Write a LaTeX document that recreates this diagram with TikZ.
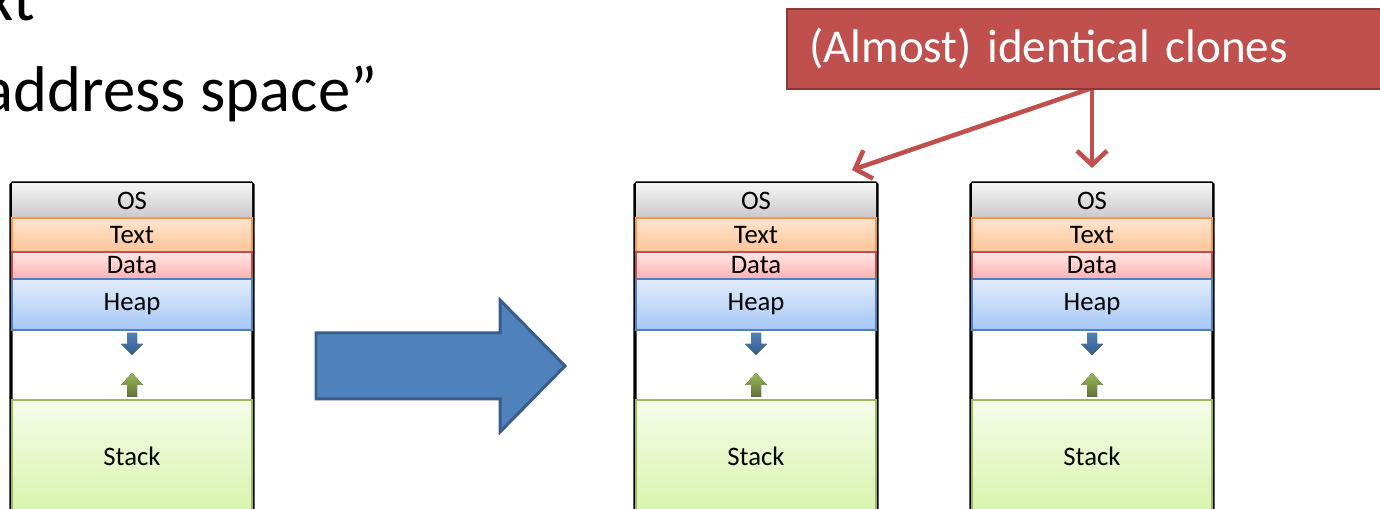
\documentclass[tikz,border=0pt]{standalone}
\usepackage{fontspec}
\setmainfont{Carlito}
\usetikzlibrary{arrows.meta}

\definecolor{osTop}{HTML}{F4F4F4}
\definecolor{osBot}{HTML}{C9C9C9}
\definecolor{txtLine}{HTML}{F79646}
\definecolor{txtTop}{HTML}{FFE4D0}
\definecolor{txtBot}{HTML}{FBC596}
\definecolor{datLine}{HTML}{C0504D}
\definecolor{datTop}{HTML}{FFE6E6}
\definecolor{datBot}{HTML}{FFB0B0}
\definecolor{heapLine}{HTML}{4F81BD}
\definecolor{heapTop}{HTML}{E2ECFC}
\definecolor{heapBot}{HTML}{A6C6F4}
\definecolor{stkLine}{HTML}{9BBB59}
\definecolor{stkTop}{HTML}{F6FCEA}
\definecolor{stkBot}{HTML}{D8F4AC}
\definecolor{cloneRed}{HTML}{C0504D}
\definecolor{cloneEdge}{HTML}{8C3836}
\definecolor{bigBlue}{HTML}{4F81BD}
\definecolor{bigEdge}{HTML}{385D8A}

\begin{document}
\begin{tikzpicture}[
    seg/.style={minimum width=2.4cm, inner sep=0pt, outer sep=0pt, anchor=north,
        font=\fontsize{7.6}{8}\selectfont, line width=0.45pt},
    ossec/.style={seg, minimum height=0.34cm, top color=osTop, bottom color=osBot},
    txtsec/.style={seg, draw=txtLine, minimum height=0.34cm, top color=txtTop, bottom color=txtBot},
    datsec/.style={seg, draw=datLine, minimum height=0.27cm, top color=datTop, bottom color=datBot},
    heapsec/.style={seg, draw=heapLine, minimum height=0.51cm, top color=heapTop, bottom color=heapBot},
    stksec/.style={seg, draw=stkLine, minimum height=1.12cm, top color=stkTop, bottom color=stkBot},
    memframe/.style={line width=0.9pt, black, rounded corners=0.5pt},
    title/.style={anchor=base west, inner sep=0pt, font=\fontsize{18.4}{20}\selectfont},
    clonearrow/.style={-{Straight Barb[length=1.4mm,width=3mm]}, line width=1.3pt, cloneRed},
  ]
  \useasboundingbox (0,0) rectangle (13.8,5.09);
  \clip (0,0) rectangle (13.8,5.09);

  %heading, cut off by the slide edge
  \node[title] (line1) at (-0.15,4.88) {xt};
  \node[title] (line2) at (-0.18,3.97) {address space”};

  %address spaces
  \foreach \x [count=\i] in {1.32,7.56,10.92} {
    \draw[memframe] (\x-1.21,-0.1) -- (\x-1.21,3.26) -- (\x+1.21,3.26) -- (\x+1.21,-0.1);
    \node[ossec] (os\i) at (\x,3.25) {OS};
    \node[txtsec] (txt\i) at (os\i.south) {Text};
    \node[datsec] (dat\i) at (txt\i.south) {Data};
    \node[heapsec] (heap\i) at (dat\i.south) {Heap};
    \node[stksec] (stk\i) at (\x,1.09) {Stack};
    % heap grows down, stack grows up
    \fill[top color=heapLine, bottom color=bigEdge]
      (\x-0.05,1.76) -- (\x+0.05,1.76) -- (\x+0.05,1.65) -- (\x+0.11,1.65)
      -- (\x,1.54) -- (\x-0.11,1.65) -- (\x-0.05,1.65) -- cycle;
    \fill[top color=stkLine, bottom color=stkLine!60!black]
      (\x,1.36) -- (\x+0.11,1.24) -- (\x+0.05,1.24) -- (\x+0.05,1.12)
      -- (\x-0.05,1.12) -- (\x-0.05,1.24) -- (\x-0.11,1.24) -- cycle;
  }

  %fork
  \draw[line width=0.85pt, fill=bigBlue, draw=bigEdge, line join=miter]
    (3.16,1.10) -- (5.00,1.10) -- (5.00,0.77) -- (5.65,1.43)
    -- (5.00,2.09) -- (5.00,1.76) -- (3.16,1.76) -- cycle;

  %callout
  \coordinate (fork) at (os3.north |- 0,4.21);
  \coordinate (tipL) at (8.52,3.39);
  \coordinate (tipR) at (10.92,3.41);
  \draw[clonearrow] (fork) -- (tipL);
  \draw[clonearrow] (fork) -- (tipR);
  \node[anchor=north west, fill=cloneRed, draw=cloneEdge, line width=0.6pt,
        text=white, text width=5.8cm, align=left, inner xsep=0.22cm,
        minimum height=0.8cm, font=\fontsize{13.4}{15}\selectfont]
        (clones) at (7.86,5.01) {(Almost) identical clones};

\end{tikzpicture}
\end{document}
